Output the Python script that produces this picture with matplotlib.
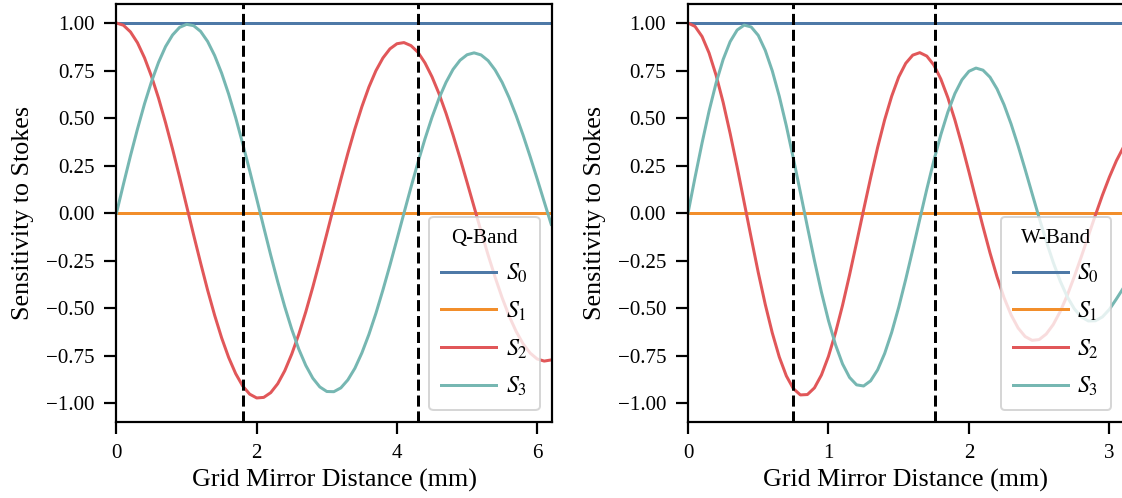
'''
sensitivity of the polarimeter to each stokes parameter vs grid-mirror
distance, for the Q-band and W-band setups
'''

import matplotlib.pyplot as plt
import numpy as np

plt.rcParams['font.family'] = ['Liberation Serif', 'DejaVu Serif']
plt.rcParams['mathtext.fontset'] = 'stix'
plt.rcParams['axes.unicode_minus'] = True

q_dist = [0.0, 0.1, 0.2, 0.3, 0.4, 0.5, 0.6, 0.7, 0.8, 0.9,
          1.0, 1.1, 1.2, 1.3, 1.4, 1.5, 1.6, 1.7, 1.8, 1.9,
          2.0, 2.1, 2.2, 2.3, 2.4, 2.5, 2.6, 2.7, 2.8, 2.9,
          3.0, 3.1, 3.2, 3.3, 3.4, 3.5, 3.6, 3.7, 3.8, 3.9,
          4.0, 4.1, 4.2, 4.3, 4.4, 4.5, 4.6, 4.7, 4.8, 4.9,
          5.0, 5.1, 5.2, 5.3, 5.4, 5.5, 5.6, 5.7, 5.8, 5.9,
          6.0, 6.1, 6.2]
q_s2 = [1.000, 0.988, 0.953, 0.896, 0.817, 0.719, 0.605, 0.476, 0.337, 0.190,
        0.038, -0.114, -0.262, -0.405, -0.537, -0.656, -0.759, -0.844, -0.909, -0.952,
        -0.972, -0.969, -0.944, -0.897, -0.829, -0.741, -0.637, -0.519, -0.389, -0.251,
        -0.108, 0.036, 0.178, 0.315, 0.443, 0.560, 0.663, 0.749, 0.816, 0.864,
        0.891, 0.897, 0.881, 0.846, 0.790, 0.717, 0.628, 0.525, 0.411, 0.289,
        0.162, 0.033, -0.096, -0.220, -0.337, -0.445, -0.541, -0.622, -0.688, -0.736,
        -0.767, -0.778, -0.772]
q_s3 = [0.000, 0.153, 0.302, 0.443, 0.575, 0.692, 0.793, 0.876, 0.937, 0.977,
        0.993, 0.986, 0.956, 0.903, 0.829, 0.736, 0.626, 0.502, 0.366, 0.223,
        0.075, -0.074, -0.221, -0.361, -0.492, -0.611, -0.715, -0.801, -0.868, -0.914,
        -0.938, -0.939, -0.919, -0.877, -0.816, -0.735, -0.638, -0.527, -0.404, -0.274,
        -0.138, 0.000, 0.136, 0.267, 0.391, 0.504, 0.604, 0.688, 0.756, 0.804,
        0.833, 0.843, 0.832, 0.802, 0.753, 0.688, 0.607, 0.513, 0.409, 0.297,
        0.180, 0.060, -0.059]
q_marks = [1.8, 4.3]

w_dist = [0.00, 0.05, 0.10, 0.15, 0.20, 0.25, 0.30, 0.35, 0.40, 0.45,
          0.50, 0.55, 0.60, 0.65, 0.70, 0.75, 0.80, 0.85, 0.90, 0.95,
          1.00, 1.05, 1.10, 1.15, 1.20, 1.25, 1.30, 1.35, 1.40, 1.45,
          1.50, 1.55, 1.60, 1.65, 1.70, 1.75, 1.80, 1.85, 1.90, 1.95,
          2.00, 2.05, 2.10, 2.15, 2.20, 2.25, 2.30, 2.35, 2.40, 2.45,
          2.50, 2.55, 2.60, 2.65, 2.70, 2.75, 2.80, 2.85, 2.90, 2.95,
          3.00, 3.05, 3.10]
w_s2 = [1.000, 0.982, 0.929, 0.842, 0.725, 0.583, 0.419, 0.242, 0.056, -0.130,
        -0.312, -0.480, -0.630, -0.757, -0.856, -0.923, -0.956, -0.954, -0.919, -0.851,
        -0.753, -0.629, -0.485, -0.325, -0.155, 0.017, 0.186, 0.346, 0.491, 0.615,
        0.716, 0.788, 0.831, 0.844, 0.826, 0.779, 0.705, 0.607, 0.490, 0.358,
        0.217, 0.072, -0.071, -0.209, -0.335, -0.445, -0.535, -0.604, -0.649, -0.669,
        -0.665, -0.636, -0.586, -0.517, -0.432, -0.334, -0.229, -0.120, -0.011, 0.094,
        0.190, 0.276, 0.347]
w_s3 = [0.000, 0.188, 0.369, 0.537, 0.685, 0.808, 0.902, 0.963, 0.989, 0.979,
        0.935, 0.856, 0.748, 0.614, 0.459, 0.288, 0.109, -0.072, -0.249, -0.416,
        -0.565, -0.692, -0.793, -0.864, -0.903, -0.909, -0.882, -0.824, -0.738, -0.627,
        -0.495, -0.348, -0.192, -0.032, 0.126, 0.276, 0.413, 0.532, 0.629, 0.701,
        0.746, 0.763, 0.752, 0.715, 0.653, 0.570, 0.469, 0.354, 0.230, 0.102,
        -0.025, -0.147, -0.259, -0.358, -0.440, -0.503, -0.546, -0.567, -0.566, -0.546,
        -0.506, -0.451, -0.393]
w_marks = [0.75, 1.76]

yticks = [-1, -0.75, -0.5, -0.25, 0, 0.25, 0.5, 0.75, 1]
colors = ['#4e79a7', '#f28e2b', '#e15759', '#76b7b2']

fig = plt.figure(figsize=(1122/144, 498/144), dpi=144)
ax1 = fig.add_axes([0.1038, 0.152, 0.3881, 0.840])
ax2 = fig.add_axes([0.6132, 0.152, 0.3881, 0.840])

panels = [(ax1, q_dist, q_s2, q_s3, q_marks, 'Q-Band', 6.21, [0, 2, 4, 6]),
          (ax2, w_dist, w_s2, w_s3, w_marks, 'W-Band', 3.10, [0, 1, 2, 3])]

for ax, dist, s2, s3, marks, band, xmax, xt in panels:
    dist = np.array(dist)
    ax.plot(dist, np.ones(len(dist)), color=colors[0], lw=1.5, label='$S_0$')
    ax.plot(dist, np.zeros(len(dist)), color=colors[1], lw=1.5, label='$S_1$')
    ax.plot(dist, s2, color=colors[2], lw=1.5, label='$S_2$')
    ax.plot(dist, s3, color=colors[3], lw=1.5, label='$S_3$')
    for m in marks:
        ax.axvline(m, color='k', ls='--', lw=1.5)
    ax.set_xlim(0, xmax)
    ax.set_ylim(-1.1, 1.1)
    ax.set_xticks(xt)
    ax.set_yticks(yticks)
    ax.set_yticklabels([('%.2f' % v).replace('-', '\u2212') for v in yticks])
    ax.tick_params(direction='out', length=6, width=1.1, labelsize=10.5, pad=5)
    for sp in ax.spines.values():
        sp.set_linewidth(1.1)
    ax.set_xlabel('Grid Mirror Distance (mm)', fontsize=13, labelpad=3)
    ax.set_ylabel('Sensitivity to Stokes', fontsize=13, labelpad=6)
    leg = ax.legend(title=band, loc='lower right', fontsize=12, title_fontsize=10.5,
                    handlelength=2.3, handletextpad=0.4, labelspacing=0.6,
                    borderpad=0.5)

fig.savefig('out.png', dpi=144)
